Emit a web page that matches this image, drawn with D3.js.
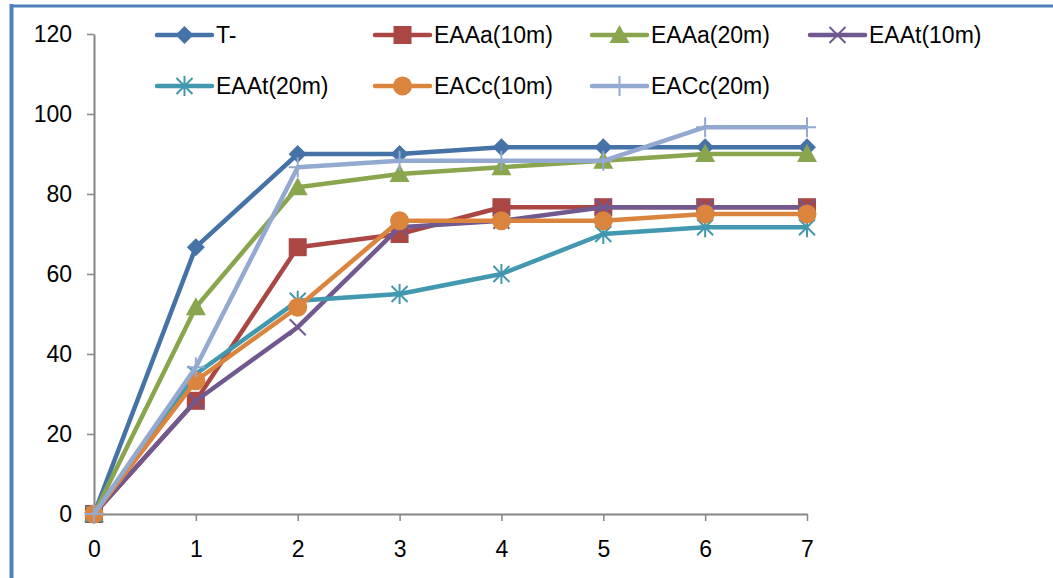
<!DOCTYPE html>
<html><head><meta charset="utf-8">
<script src="https://cdn.jsdelivr.net/npm/d3@7"></script>
<style>body{margin:0;background:#fff}svg{display:block}</style>
</head><body>
<svg id="c" width="1053" height="578"></svg>
<script>
const xValues = [0,1,2,3,4,5,6,7];
const seriesNames = ["T-","EAAa(10m)","EAAa(20m)","EAAt(10m)","EAAt(20m)","EACc(10m)","EACc(20m)"];
const tMinus   = [0,66.7,90,90,91.7,91.7,91.7,91.7];
const eaaa10   = [0,28.3,66.7,70,76.7,76.7,76.7,76.7];
const eaaa20   = [0,51.7,81.7,85,86.7,88.3,90,90];
const eaat10   = [0,28.3,46.7,71.7,73.3,76.7,76.7,76.7];
const eaat20   = [0,35,53.3,55,60,70,71.7,71.7];
const eacc10   = [0,33.3,51.7,73.3,73.3,73.3,75,75];
const eacc20   = [0,36.7,86.7,88.3,88.3,88.3,96.7,96.7];
const yTicks = [0,20,40,60,80,100,120];
const xTicks = [0,1,2,3,4,5,6,7];

const seriesValues = [tMinus,eaaa10,eaaa20,eaat10,eaat20,eacc10,eacc20];
const colors = ["#4572A7","#AA4643","#89A54E","#71588F","#4198AF","#DB843D","#93A9CF"];
const markers = ["diamond","square","triangle","x","asterisk","circle","plus"];

const svg = d3.select("#c");
const font = "'Liberation Sans', Arial, sans-serif";
const fs = 23;

// frame lines
svg.append("line").attr("x1",11.5).attr("x2",11.5).attr("y1",4).attr("y2",578).attr("stroke","#4F81BD").attr("stroke-width",4);
svg.append("line").attr("x1",10).attr("x2",1053).attr("y1",6).attr("y2",6).attr("stroke","#4F81BD").attr("stroke-width",3);

const x = d3.scaleLinear().domain([0,7]).range([94,807]);
const y = d3.scaleLinear().domain([0,120]).range([514,34]);

// axes
const yAxis = svg.append("g").attr("transform","translate(94,0)")
  .call(d3.axisLeft(y).tickValues(yTicks).tickFormat(d3.format("d")).tickSize(7).tickPadding(15).tickSizeOuter(0));
const xAxis = svg.append("g").attr("transform","translate(0,514)")
  .call(d3.axisBottom(x).tickValues(xTicks).tickFormat(d3.format("d")).tickSize(7).tickPadding(20).tickSizeOuter(0));
[yAxis,xAxis].forEach(a=>{
  a.select(".domain").attr("stroke","#868686").attr("stroke-width",2);
  a.selectAll(".tick line").attr("stroke","#868686").attr("stroke-width",1.5);
  a.selectAll("text").attr("font-family",font).attr("font-size",fs).attr("fill","#000");
});

function drawMarker(g, type, color, cx, cy){
  const s = g.append("g").attr("transform",`translate(${cx},${cy})`);
  if(type==="diamond"){
    s.append("path").attr("d","M0,-9L9,0L0,9L-9,0Z").attr("fill",color);
  } else if(type==="square"){
    s.append("rect").attr("x",-9).attr("y",-9).attr("width",18).attr("height",18).attr("fill",color);
  } else if(type==="triangle"){
    s.append("path").attr("d","M0,-10L10,8L-10,8Z").attr("fill",color);
  } else if(type==="circle"){
    s.append("circle").attr("r",9.5).attr("fill",color);
  } else if(type==="x"){
    s.append("path").attr("d","M-8,-8L8,8M-8,8L8,-8").attr("stroke",color).attr("stroke-width",2);
  } else if(type==="asterisk"){
    s.append("path").attr("d","M-8,-8L8,8M-8,8L8,-8M0,-10L0,10").attr("stroke",color).attr("stroke-width",2);
  } else if(type==="plus"){
    s.append("path").attr("d","M-9,0L9,0M0,-10L0,10").attr("stroke",color).attr("stroke-width",2);
  }
}

const line = d3.line().x((d,i)=>x(xValues[i])).y(d=>y(d));
seriesValues.forEach((vals,k)=>{
  const g = svg.append("g");
  g.append("path").datum(vals).attr("d",line).attr("fill","none")
    .attr("stroke",colors[k]).attr("stroke-width",4.5).attr("stroke-linejoin","round");
  vals.forEach((v,i)=>drawMarker(g, markers[k], colors[k], x(xValues[i]), y(v)));
});

// legend
const legendX = [157,375,592,810];
const legendY = [35,86];
seriesNames.forEach((name,k)=>{
  const lx = legendX[k%4], ly = legendY[Math.floor(k/4)];
  const g = svg.append("g");
  g.append("line").attr("x1",lx).attr("x2",lx+55).attr("y1",ly).attr("y2",ly)
    .attr("stroke",colors[k]).attr("stroke-width",4.5).attr("stroke-linecap","round");
  drawMarker(g, markers[k], colors[k], lx+27.5, ly);
  g.append("text").attr("x",lx+59).attr("y",ly).attr("dy","0.36em")
    .attr("font-family",font).attr("font-size",fs).attr("fill","#000").text(name);
});
</script>
</body></html>
